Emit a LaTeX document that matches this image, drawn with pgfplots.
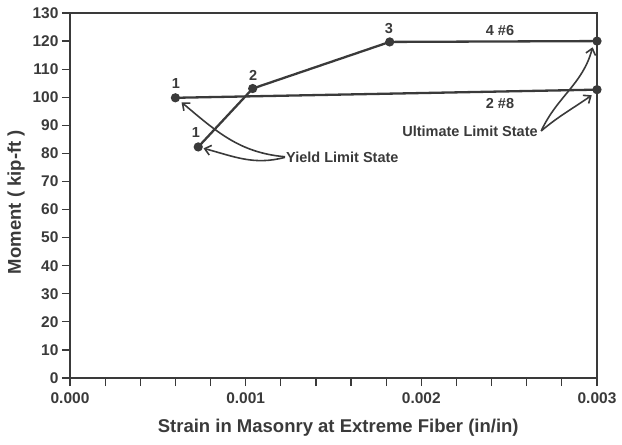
\documentclass[border=0pt]{standalone}
\usepackage{pgfplots}
\pgfplotsset{compat=1.18}
\usepackage{fontspec}
\setmainfont{Liberation Sans}
\usetikzlibrary{arrows.meta}

\definecolor{ink}{HTML}{3A3A3A}

\begin{document}
\begin{tikzpicture}[x=1pt,y=1pt]
\begin{axis}[
  at={(0,0)}, anchor=south west,
  scale only axis, width=527pt, height=365pt,
  xmin=0, xmax=0.003, ymin=0, ymax=130,
  xtick={0,0.001,0.002,0.003},
  xticklabels={0.000,0.001,0.002,0.003},
  minor x tick num=4,
  ytick={0,10,...,130},
  xtick pos=bottom, ytick pos=left,
  scaled ticks=false,
  tick align=outside,
  major tick length=8pt, minor tick length=8pt,
  axis line style={ink, line width=1.4pt},
  every tick/.style={ink, line width=1.2pt},
  /pgf/number format/assume math mode=true,
  ticklabel style={font=\bfseries\fontsize{15.5}{17}\selectfont, text=ink},
  xticklabel style={yshift=-3pt},
  xlabel={Strain in Masonry at Extreme Fiber (in/in)},
  ylabel={Moment ( kip-ft )},
  every axis x label/.append style={at={(axis description cs:0.509,-0.137)}, anchor=center,
    font=\bfseries\fontsize{18.5}{21}\selectfont, text=ink},
  every axis y label/.append style={at={(axis description cs:-0.1025,0.482)}, anchor=center, rotate=0,
    font=\bfseries\fontsize{18.5}{21}\selectfont, text=ink},
  clip=false,
]
% 4 #6 bars
\addplot[ink, line width=2.3pt, mark=*, mark size=3.4pt] coordinates {
  (0.00073,82.3) (0.00104,103.1) (0.00182,119.7) (0.003,120.0)
};
% 2 #8 bars
\addplot[ink, line width=2.3pt, mark=*, mark size=3.4pt] coordinates {
  (0.00060,99.8) (0.003,102.7)
};

\begin{scope}[font=\bfseries\fontsize{14.5}{16}\selectfont, text=ink]
\node at (axis cs:0.000603,104.9) {1};
\node at (axis cs:0.000717,87.3) {1};
\node at (axis cs:0.001042,107.9) {2};
\node at (axis cs:0.001816,124.4) {3};
\node at (axis cs:0.002448,123.9) {4 \#6};
\node at (axis cs:0.002448,97.7) {2 \#8};
\node (uls) at (axis cs:0.002277,88.0) {Ultimate Limit State};
\node[anchor=west, inner sep=1pt] (yls) at (axis cs:0.001224,78.7) {Yield Limit State};
\end{scope}

\begin{scope}[ink, line width=1.6pt, -{Straight Barb[length=6pt,width=10pt]}]
\draw (axis cs:0.001224,78.8) to[out=175,in=-40] (axis cs:0.000635,98.2);
\draw (axis cs:0.001224,78.6) to[out=195,in=-15] (axis cs:0.000760,81.8);
\draw (uls.east) to[out=65,in=-105] (axis cs:0.002975,117.8);
\draw (uls.east) to[out=40,in=-145] (axis cs:0.002970,100.7);
\end{scope}
\end{axis}
\pgfresetboundingbox
\path[use as bounding box] (-70pt,-67pt) rectangle (552pt,378pt);
\end{tikzpicture}
\end{document}
